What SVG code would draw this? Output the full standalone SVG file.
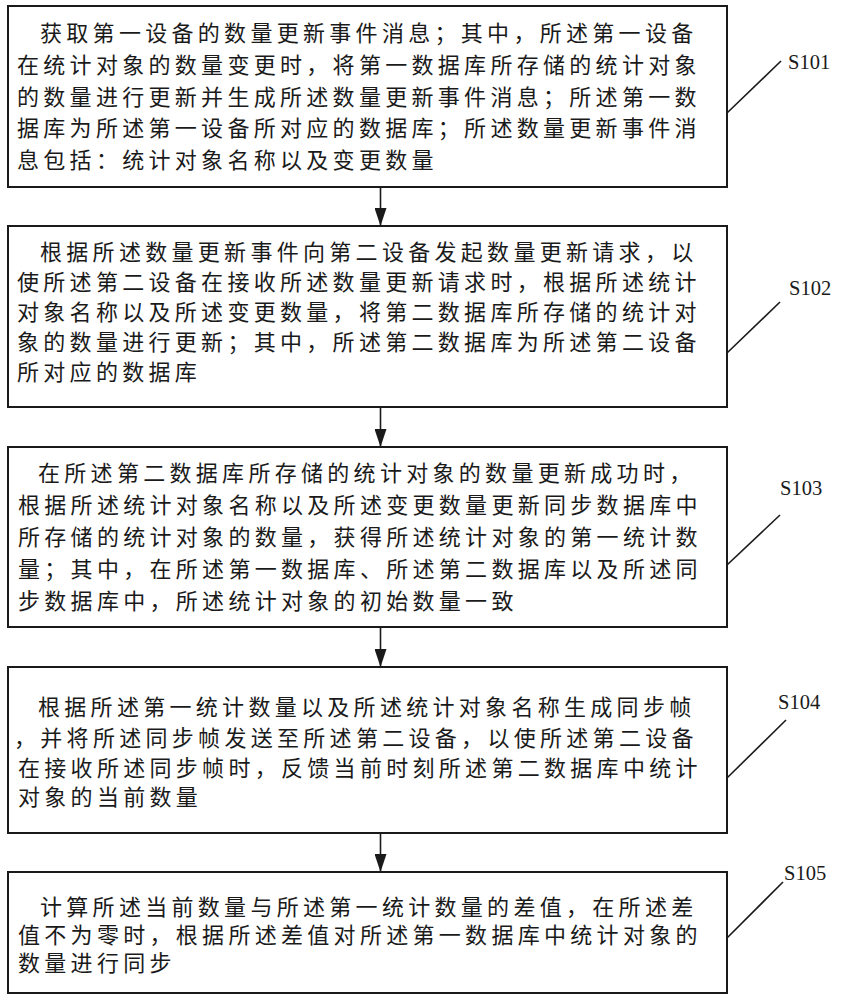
<svg xmlns="http://www.w3.org/2000/svg" width="841" height="1000" viewBox="0 0 841 1000">
<defs>
<style>
.box{fill:#fff;stroke:#1a1a1a;stroke-width:2}
.t{font-family:"Liberation Serif","Noto Sans CJK SC",serif;font-size:22px;letter-spacing:4.3px;fill:#1a1a1a}
.lbl{font-family:"Liberation Serif",serif;font-size:20.5px;fill:#1a1a1a}
.ld{stroke:#1a1a1a;stroke-width:1.6;fill:none}
.ar{stroke:#1a1a1a;stroke-width:1.6;fill:none;marker-end:url(#ah)}
</style>
<marker id="ah" markerUnits="userSpaceOnUse" markerWidth="18" markerHeight="12" refX="18" refY="6" orient="auto">
<path d="M0,0 L18,6 L0,12 z" fill="#1a1a1a"/>
</marker>
</defs>
<rect width="841" height="1000" fill="#fff"/>
<g id="connectors">
<line class="ar" x1="380.5" y1="187" x2="380.5" y2="226"/>
<line class="ar" x1="380.5" y1="407" x2="380.5" y2="447"/>
<line class="ar" x1="380.5" y1="627" x2="380.5" y2="667"/>
<line class="ar" x1="380.5" y1="833" x2="380.5" y2="872"/>
<line class="ld" x1="727" y1="113" x2="781" y2="61"/>
<line class="ld" x1="727" y1="353" x2="780" y2="302"/>
<line class="ld" x1="727" y1="565" x2="780" y2="515"/>
<line class="ld" x1="727" y1="778" x2="786" y2="720"/>
<line class="ld" x1="727" y1="938" x2="783" y2="882"/>
</g>
<g id="S101">
<rect class="box" x="8" y="6" width="719" height="181"/>
<text class="t" x="40" y="41">获取第一设备的数量更新事件消息；其中，所述第一设备</text>
<text class="t" x="17" y="73">在统计对象的数量变更时，将第一数据库所存储的统计对象</text>
<text class="t" x="17" y="105">的数量进行更新并生成所述数量更新事件消息；所述第一数</text>
<text class="t" x="17" y="136">据库为所述第一设备所对应的数据库；所述数量更新事件消</text>
<text class="t" x="17" y="168">息包括：统计对象名称以及变更数量</text>
<text class="lbl" x="788" y="69">S101</text>
</g>
<g id="S102">
<rect class="box" x="8" y="226" width="719" height="181"/>
<text class="t" x="40" y="260">根据所述数量更新事件向第二设备发起数量更新请求，以</text>
<text class="t" x="17" y="290">使所述第二设备在接收所述数量更新请求时，根据所述统计</text>
<text class="t" x="17" y="320">对象名称以及所述变更数量，将第二数据库所存储的统计对</text>
<text class="t" x="17" y="350">象的数量进行更新；其中，所述第二数据库为所述第二设备</text>
<text class="t" x="17" y="380">所对应的数据库</text>
<text class="lbl" x="789" y="295">S102</text>
</g>
<g id="S103">
<rect class="box" x="8" y="447" width="719" height="180"/>
<text class="t" x="38" y="481">在所述第二数据库所存储的统计对象的数量更新成功时，</text>
<text class="t" x="18" y="513">根据所述统计对象名称以及所述变更数量更新同步数据库中</text>
<text class="t" x="18" y="545">所存储的统计对象的数量，获得所述统计对象的第一统计数</text>
<text class="t" x="18" y="577">量；其中，在所述第一数据库、所述第二数据库以及所述同</text>
<text class="t" x="18" y="609">步数据库中，所述统计对象的初始数量一致</text>
<text class="lbl" x="780" y="495">S103</text>
</g>
<g id="S104">
<rect class="box" x="8" y="667" width="719" height="166"/>
<text class="t" x="38" y="715">根据所述第一统计数量以及所述统计对象名称生成同步帧</text>
<text class="t" x="14" y="746">，并将所述同步帧发送至所述第二设备，以使所述第二设备</text>
<text class="t" x="18" y="776">在接收所述同步帧时，反馈当前时刻所述第二数据库中统计</text>
<text class="t" x="18" y="805">对象的当前数量</text>
<text class="lbl" x="778" y="709">S104</text>
</g>
<g id="S105">
<rect class="box" x="8" y="872" width="719" height="121"/>
<text class="t" x="40" y="915">计算所述当前数量与所述第一统计数量的差值，在所述差</text>
<text class="t" x="18" y="943">值不为零时，根据所述差值对所述第一数据库中统计对象的</text>
<text class="t" x="18" y="971">数量进行同步</text>
<text class="lbl" x="784" y="880">S105</text>
</g>
</svg>
